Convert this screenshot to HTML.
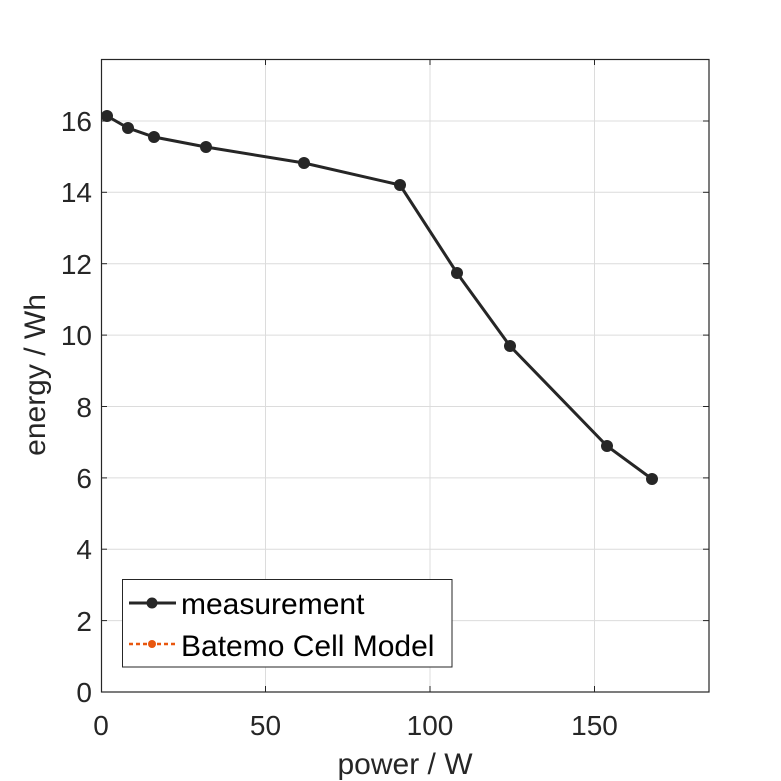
<!DOCTYPE html>
<html><head><meta charset="utf-8"><style>body{margin:0;background:#fff}svg{display:block}</style></head><body>
<svg width="781" height="781" xmlns="http://www.w3.org/2000/svg" font-family="Liberation Sans, sans-serif">
<rect width="781" height="781" fill="#fff"/>
<g stroke="#dcdcdc" stroke-width="1">
<line x1="265.5" y1="59" x2="265.5" y2="692"/><line x1="430" y1="59" x2="430" y2="692"/><line x1="594.5" y1="59" x2="594.5" y2="692"/>
<line x1="101" y1="620.6" x2="709" y2="620.6"/><line x1="101" y1="549.2" x2="709" y2="549.2"/><line x1="101" y1="477.9" x2="709" y2="477.9"/><line x1="101" y1="406.5" x2="709" y2="406.5"/><line x1="101" y1="335.1" x2="709" y2="335.1"/><line x1="101" y1="263.7" x2="709" y2="263.7"/><line x1="101" y1="192.3" x2="709" y2="192.3"/><line x1="101" y1="121" x2="709" y2="121"/>
</g>
<rect x="101.5" y="59.5" width="607.5" height="632.5" fill="none" stroke="#262626" stroke-width="1.2"/>
<g stroke="#262626" stroke-width="1">
<line x1="265.5" y1="692" x2="265.5" y2="686"/><line x1="430" y1="692" x2="430" y2="686"/><line x1="594.5" y1="692" x2="594.5" y2="686"/>
<line x1="265.5" y1="59" x2="265.5" y2="65"/><line x1="430" y1="59" x2="430" y2="65"/><line x1="594.5" y1="59" x2="594.5" y2="65"/>
<line x1="101" y1="620.6" x2="107" y2="620.6"/><line x1="101" y1="549.2" x2="107" y2="549.2"/><line x1="101" y1="477.9" x2="107" y2="477.9"/><line x1="101" y1="406.5" x2="107" y2="406.5"/><line x1="101" y1="335.1" x2="107" y2="335.1"/><line x1="101" y1="263.7" x2="107" y2="263.7"/><line x1="101" y1="192.3" x2="107" y2="192.3"/><line x1="101" y1="121" x2="107" y2="121"/>
<line x1="709" y1="620.6" x2="703" y2="620.6"/><line x1="709" y1="549.2" x2="703" y2="549.2"/><line x1="709" y1="477.9" x2="703" y2="477.9"/><line x1="709" y1="406.5" x2="703" y2="406.5"/><line x1="709" y1="335.1" x2="703" y2="335.1"/><line x1="709" y1="263.7" x2="703" y2="263.7"/><line x1="709" y1="192.3" x2="703" y2="192.3"/><line x1="709" y1="121" x2="703" y2="121"/>
</g>
<g font-size="28" fill="#262626" text-anchor="end">
<text x="92" y="702">0</text><text x="92" y="631">2</text><text x="92" y="559">4</text><text x="92" y="488">6</text><text x="92" y="417">8</text><text x="92" y="345">10</text><text x="92" y="274">12</text><text x="92" y="202">14</text><text x="92" y="131">16</text>
</g>
<g font-size="28" fill="#262626" text-anchor="middle">
<text x="101" y="735">0</text><text x="265.5" y="735">50</text><text x="430" y="735">100</text><text x="594.5" y="735">150</text>
</g>
<g font-size="30" fill="#262626" text-anchor="middle">
<text x="405" y="774">power / W</text>
<text transform="translate(45,375) rotate(-90)">energy / Wh</text>
</g>
<polyline fill="none" stroke="#262626" stroke-width="3" points="107,116 128,128 154,137 206,147 304,163 400,185 457,273 510,346 607,446 652,479"/>
<g fill="#262626">
<circle cx="107" cy="116" r="6"/><circle cx="128" cy="128" r="6"/><circle cx="154" cy="137" r="6"/><circle cx="206" cy="147" r="6"/><circle cx="304" cy="163" r="6"/><circle cx="400" cy="185" r="6"/><circle cx="457" cy="273" r="6"/><circle cx="510" cy="346" r="6"/><circle cx="607" cy="446" r="6"/><circle cx="652" cy="479" r="6"/>
</g>
<rect x="122.5" y="579.5" width="329.5" height="87.5" fill="#fff" stroke="#262626" stroke-width="1"/>
<line x1="129" y1="603" x2="176" y2="603" stroke="#262626" stroke-width="3"/>
<circle cx="152" cy="603" r="5.5" fill="#262626"/>
<line x1="129" y1="644" x2="176" y2="644" stroke="#e8570e" stroke-width="2.5" stroke-dasharray="4,3"/>
<circle cx="152" cy="644" r="4" fill="#e8570e"/>
<g font-size="30" fill="#000">
<text x="181" y="614">measurement</text>
<text x="181" y="656">Batemo Cell Model</text>
</g>
</svg>
</body></html>
